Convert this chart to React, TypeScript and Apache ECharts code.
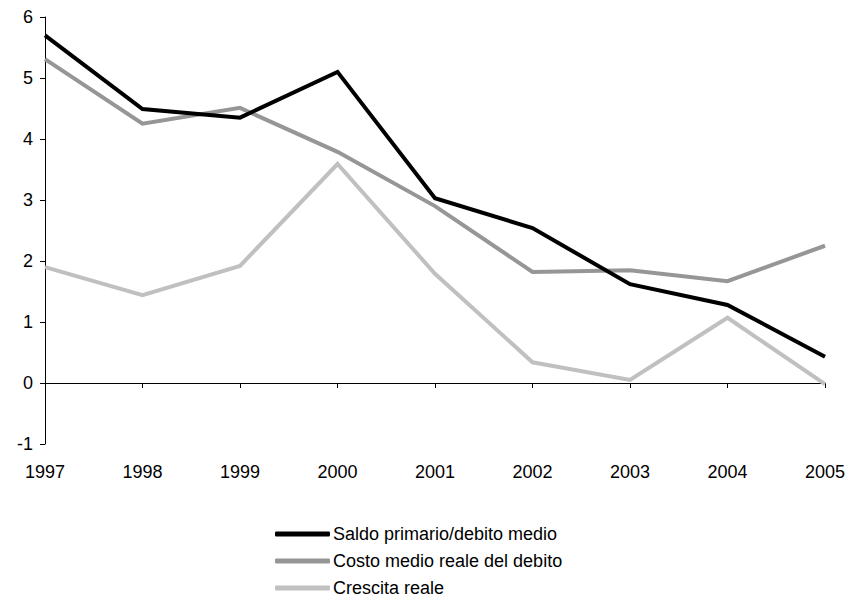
import React, { useEffect, useRef } from "react";
import * as echarts from "echarts";

const years = ["1997", "1998", "1999", "2000", "2001", "2002", "2003", "2004", "2005"];
const saldoPrimario = [5.7, 4.49, 4.35, 5.1, 3.03, 2.54, 1.62, 1.28, 0.43];
const costoMedio = [5.31, 4.25, 4.51, 3.79, 2.9, 1.82, 1.85, 1.67, 2.25];
const crescitaReale = [1.9, 1.44, 1.92, 3.59, 1.79, 0.34, 0.05, 1.07, -0.02];

const seriesNames = [
  "Saldo primario/debito medio",
  "Costo medio reale del debito",
  "Crescita reale",
];
const seriesColors = ["#000000", "#969696", "#c0c0c0"];

const FONT = "'Liberation Sans', Arial, sans-serif";

export default function App() {
  const ref = useRef<HTMLDivElement>(null);

  useEffect(() => {
    if (!ref.current) return;
    const chart = echarts.init(ref.current, undefined, { renderer: "svg" });
    const values = [saldoPrimario, costoMedio, crescitaReale];
    chart.setOption({
      animation: false,
      backgroundColor: "#ffffff",
      textStyle: { fontFamily: FONT },
      grid: { left: 45, right: 27, top: 17, bottom: 153, containLabel: false },
      legend: {
        orient: "vertical",
        left: 275,
        top: 525,
        padding: 0,
        icon: "roundRect",
        itemWidth: 55,
        itemHeight: 5,
        itemGap: 9,
        textStyle: { fontFamily: FONT, fontSize: 18, color: "#000", padding: [0, 0, 0, -2] },
        data: seriesNames,
      },
      xAxis: [
        {
          type: "category",
          position: "bottom",
          data: years,
          boundaryGap: false,
          axisLine: { onZero: true, lineStyle: { color: "#000", width: 1 } },
          axisTick: { show: true, length: 5, lineStyle: { color: "#000" } },
          axisLabel: { show: false },
          splitLine: { show: false },
        },
        {
          type: "category",
          position: "bottom",
          data: years,
          boundaryGap: false,
          axisLine: { show: false, onZero: false },
          axisTick: { show: false },
          axisLabel: { show: true, margin: 19, fontSize: 18, color: "#000", fontFamily: FONT },
          splitLine: { show: false },
        },
      ],
      yAxis: {
        type: "value",
        min: -1,
        max: 6,
        interval: 1,
        axisLine: { show: true, onZero: false, lineStyle: { color: "#000", width: 1 } },
        axisTick: { show: true, length: 5, lineStyle: { color: "#000" } },
        axisLabel: { margin: 12, fontSize: 18, color: "#000", fontFamily: FONT },
        splitLine: { show: false },
      },
      series: seriesNames.map((name, i) => ({
        name,
        type: "line",
        xAxisIndex: 0,
        data: values[i],
        symbol: "none",
        color: seriesColors[i],
        lineStyle: { color: seriesColors[i], width: 4, cap: "butt", join: "miter" },
        z: 3 - i,
      })),
    });
    return () => chart.dispose();
  }, []);

  return (
    <div
      ref={ref}
      style={{ position: "absolute", left: 0, top: 0, width: 852, height: 597 }}
    />
  );
}
